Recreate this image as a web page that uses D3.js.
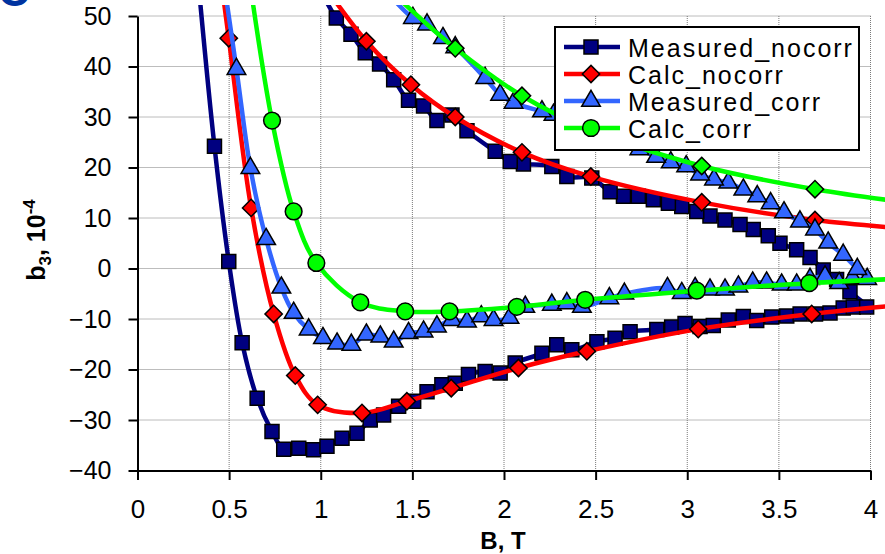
<!DOCTYPE html>
<html>
<head>
<meta charset="utf-8">
<script src="https://cdn.jsdelivr.net/npm/d3@7"></script>
<style>
  body { margin: 0; background: #fff; }
  svg { display: block; font-family: "Liberation Sans", Arial, sans-serif; }
</style>
</head>
<body>
<div id="chart"></div>
<script>
// ---- data: [B (T), b3 (1e-4)] ----
// measured, no correction: ramp up, then back down (one loop)
const measNocorr = [
  [0.335, 55.5], [0.42, 24.2], [0.498, 1.4], [0.571, -14.7], [0.653, -25.7], [0.734, -32.3],
  [0.798, -35.8], [0.88, -35.6], [0.961, -35.9], [1.034, -35.2], [1.116, -33.6], [1.198, -32.6],
  [1.27, -30], [1.343, -29], [1.425, -27.3], [1.507, -26.3], [1.58, -24.4], [1.661, -23],
  [1.734, -22.7], [1.806, -21], [1.897, -20.4], [1.979, -20.7], [2.061, -18.7], [2.207, -16.8],
  [2.288, -15.1], [2.37, -16.1], [2.507, -14.5], [2.606, -13.8], [2.688, -12.5], [2.834, -12.1],
  [2.915, -11.6], [2.988, -10.9], [3.07, -11.5], [3.142, -11.3], [3.224, -10.2], [3.306, -9.5],
  [3.379, -10.3], [3.461, -9.6], [3.543, -9.4], [3.616, -9.0], [3.70, -9.0], [3.779, -8.8],
  [3.851, -7.8], [3.906, -7.6], [3.979, -7.6],
  [3.888, -4.6], [3.815, -2.2], [3.742, -0.3], [3.67, 2.2], [3.597, 3.7], [3.506, 5.0],
  [3.442, 6.5], [3.36, 7.7], [3.288, 8.7], [3.206, 9.6], [3.124, 10.4], [3.052, 11.3],
  [2.97, 12.3], [2.897, 12.9], [2.815, 13.6], [2.733, 14.3], [2.652, 14.3], [2.579, 15.2],
  [2.479, 17.9], [2.343, 18.2], [2.261, 20.2], [2.106, 20.7], [2.034, 21.2], [1.952, 23.2],
  [1.798, 27.3], [1.716, 30.4], [1.634, 29.3], [1.561, 32.2], [1.479, 33.3], [1.398, 37.4],
  [1.321, 40.5], [1.243, 42.7], [1.165, 46.4], [1.085, 49.6], [1.0, 55]
];

// calculated, no correction
const calcNocorrUp = [
  [0.46, 56], [0.498, 45.6], [0.62, 12.0], [0.743, -9.0], [0.861, -21.2], [0.983, -27.0],
  [1.225, -28.6], [1.47, -26.3], [1.712, -23.7], [2.079, -19.7], [2.452, -16.4],
  [3.06, -12.0], [3.679, -9.0], [4.3, -6.8]
];
const calcNocorrDown = [
  [1.0, 57], [1.249, 45.0], [1.492, 36.4], [1.734, 30.0], [2.098, 23.0], [2.474, 18.2],
  [3.079, 13.1], [3.697, 9.6], [4.3, 7.6]
];

// measured, with correction
const measCorr = [
  [0.47, 57], [0.54, 39.5], [0.616, 19.9], [0.702, 5.8], [0.785, -3.8], [0.852, -8.8],
  [0.934, -12.1], [1.012, -13.8], [1.089, -14.9], [1.167, -15.1], [1.249, -13.1], [1.325, -13.5],
  [1.398, -14.5], [1.479, -12.8], [1.561, -12.5], [1.634, -11.5], [1.716, -10.2], [1.798, -10.5],
  [1.876, -9.5], [1.943, -10.2], [2.03, -9.8], [2.116, -7.6], [2.261, -7.2], [2.343, -6.9],
  [2.425, -7.6], [2.575, -5.9], [2.657, -5.0], [2.892, -3.9], [2.97, -4.9], [3.043, -3.9],
  [3.124, -4.2], [3.206, -4.2], [3.279, -3.6], [3.357, -2.8], [3.433, -2.8], [3.515, -3.2],
  [3.597, -3.2], [3.67, -2.1], [3.752, -1.6], [3.829, -2.9], [3.902, -1.9], [3.982, -2.1],
  [3.928, -0.1], [3.851, 2.7], [3.769, 5.1], [3.697, 7.7], [3.615, 9.3], [3.528, 11.1],
  [3.455, 12.9], [3.382, 14.3], [3.306, 15.6], [3.224, 17.0], [3.146, 17.6], [3.07, 18.6],
  [2.994, 20.2], [2.91, 21.0], [2.83, 22.1], [2.739, 23.6], [2.62, 25.0], [2.45, 27.5],
  [2.35, 29.2], [2.27, 30.4], [2.207, 31.1], [2.052, 32.8], [1.979, 34.4], [1.897, 37.7],
  [1.734, 43.8], [1.667, 45.6], [1.58, 48.3], [1.503, 49.6], [1.38, 54]
];

// calculated, with correction
const calcCorrUp = [
  [0.6, 60], [0.734, 29.3], [0.852, 11.3], [0.976, 1.1], [1.216, -6.7], [1.461, -8.5],
  [1.703, -8.5], [2.07, -7.6], [2.443, -6.2], [3.052, -4.4], [3.666, -2.9], [4.3, -1.8]
];
const calcCorrDown = [
  [1.35, 56], [1.734, 43.6], [2.098, 34.2], [2.47, 27.5], [3.079, 20.3], [3.697, 15.7], [4.3, 12.6]
];

const xTicks = [0, 0.5, 1, 1.5, 2, 2.5, 3, 3.5, 4];
const yTicks = [-40, -30, -20, -10, 0, 10, 20, 30, 40, 50];
const legendNames = ["Measured_nocorr", "Calc_nocorr", "Measured_corr", "Calc_corr"];

// ---- canvas ----
const W = 885, H = 554;
const svg = d3.select("#chart").append("svg")
  .attr("width", W)
  .attr("height", H);

const x = d3.scaleLinear().domain([0, 4]).range([137.5, 870.5]);
const y = d3.scaleLinear().domain([-40, 50]).range([470.5, 16]);

// panel letter in the corner (cut off in the original)
svg.append("text")
  .attr("x", -2).attr("y", 6)
  .style("font-size", "44px").style("font-weight", "bold")
  .style("fill", "#0033a0")
  .text("C");

// gridlines, dotted
const grid = svg.append("g");
grid.selectAll("line.gx").data(xTicks.slice(1)).enter().append("line")
  .attr("x1", d => x(d)).attr("x2", d => x(d))
  .attr("y1", y(50)).attr("y2", y(-40));
grid.selectAll("line.gy").data(yTicks.slice(1)).enter().append("line")
  .attr("x1", x(0)).attr("x2", x(4))
  .attr("y1", d => y(d)).attr("y2", d => y(d));
grid.selectAll("line")
  .style("stroke", "#7a7a7a")
  .style("stroke-width", 1)
  .style("stroke-dasharray", "1,1");

// axes
const yAxis = svg.append("g")
  .attr("transform", `translate(${x(0)},0)`)
  .call(d3.axisLeft(y).tickValues(yTicks).tickSize(9).tickSizeOuter(0).tickPadding(17));
const xAxis = svg.append("g")
  .attr("transform", `translate(0,${y(-40)})`)
  .call(d3.axisBottom(x).tickValues(xTicks).tickSize(9.5).tickSizeOuter(0).tickPadding(20)
    .tickFormat(d3.format("")));
[yAxis, xAxis].forEach(a => {
  a.select(".domain").style("stroke", "#000").style("stroke-width", 2);
  a.selectAll(".tick line").style("stroke", "#000").style("stroke-width", 2);
  a.selectAll("text").style("fill", "#000").style("font-family", '"Liberation Sans", Arial, sans-serif');
});
yAxis.selectAll("text").style("font-size", "25px");
xAxis.selectAll("text").style("font-size", "26px");

// axis titles
svg.append("text")
  .attr("x", 503).attr("y", 549)
  .attr("text-anchor", "middle")
  .style("font-size", "24px").style("font-weight", "bold")
  .text("B, T");

const yt = svg.append("text")
  .attr("transform", "translate(45,240) rotate(-90)")
  .attr("text-anchor", "middle")
  .style("font-size", "25px").style("font-weight", "bold");
yt.append("tspan").text("b");
yt.append("tspan").attr("dy", 6).style("font-size", "17px").text("3");
yt.append("tspan").attr("dy", -6).text(", 10");
yt.append("tspan").attr("dy", -10).style("font-size", "17px").text("-4");

// ---- series ----
svg.append("clipPath").attr("id", "plotclip")
  .append("rect")
  .attr("x", x(0)).attr("y", 5)
  .attr("width", W - x(0)).attr("height", y(-40) - 5);

const line = d3.line()
  .x(d => x(d[0]))
  .y(d => y(d[1]))
  .curve(d3.curveCatmullRom.alpha(0.5));

const shapes = {
  square: d3.symbol(d3.symbolSquare, 196),
  diamond: d3.symbol(d3.symbolSquare, 150),
  triangle: d3.symbol(d3.symbolTriangle, 150),
  circle: d3.symbol(d3.symbolCircle, 220)
};

function markerPath(g, shape, fill) {
  return g.append("path")
    .attr("d", shapes[shape]())
    .style("fill", fill)
    .style("stroke", "#000")
    .style("stroke-width", 1.5);
}

function drawSeries(data, color, shape) {
  const g = svg.append("g");
  g.append("path")
    .datum(data)
    .attr("clip-path", "url(#plotclip)")
    .attr("d", line)
    .style("fill", "none")
    .style("stroke", color)
    .style("stroke-width", 4.5)
    .style("stroke-linejoin", "round");

  // only points inside the axis range get a marker
  data.filter(d => d[1] <= 50.5 && d[0] <= 4).forEach(d => {
    const rot = shape === "diamond" ? " rotate(45)" : "";
    markerPath(g, shape, color)
      .attr("transform", `translate(${x(d[0])},${y(d[1])})${rot}`);
  });
}

drawSeries(measNocorr, "#000080", "square");
drawSeries(calcNocorrUp, "#ff0000", "diamond");
drawSeries(calcNocorrDown, "#ff0000", "diamond");
drawSeries(measCorr, "#3366ff", "triangle");
drawSeries(calcCorrUp, "#00ff00", "circle");
drawSeries(calcCorrDown, "#00ff00", "diamond");

// ---- legend ----
const legend = svg.append("g");
legend.append("rect")
  .attr("x", 555).attr("y", 27)
  .attr("width", 304).attr("height", 123)
  .style("fill", "#fff")
  .style("stroke", "#000")
  .style("stroke-width", 2);

const legendColors = ["#000080", "#ff0000", "#3366ff", "#00ff00"];
const legendShapes = ["square", "diamond", "triangle", "circle"];

legendNames.forEach((name, i) => {
  const cy = 47 + i * 27;
  legend.append("line")
    .attr("x1", 564).attr("x2", 620)
    .attr("y1", cy).attr("y2", cy)
    .style("stroke", legendColors[i])
    .style("stroke-width", 4.5);
  const rot = legendShapes[i] === "diamond" ? " rotate(45)" : "";
  markerPath(legend, legendShapes[i], legendColors[i])
    .attr("transform", `translate(591,${cy})${rot}`);
  legend.append("text")
    .attr("x", 628).attr("y", cy + 9.5)
    .style("font-size", "25px")
    .style("letter-spacing", "2px")
    .text(name);
});
</script>
</body>
</html>
